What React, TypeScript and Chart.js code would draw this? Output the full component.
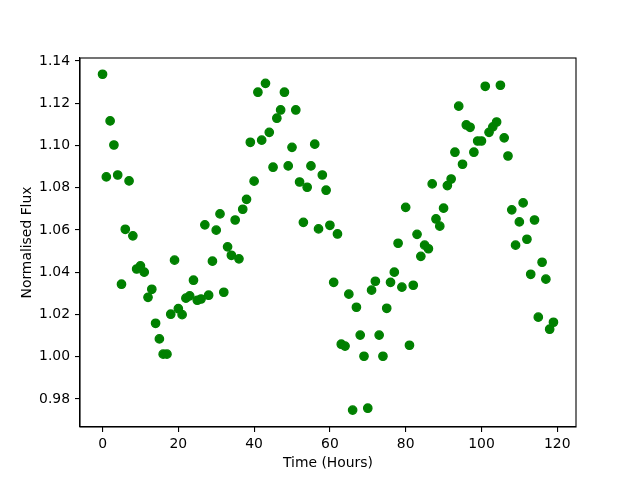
import React, { useEffect, useRef } from "react";
import { Chart, registerables } from "chart.js";

Chart.register(...registerables);

const hours: number[] = Array.from({ length: 120 }, (_, i) => i);

const flux: number[] = [
  1.1337, 1.0851, 1.1116, 1.1002, 1.086, 1.0343, 1.0603, 1.0832, 1.0572, 1.0415,
  1.043, 1.04, 1.0281, 1.0319, 1.0158, 1.0084, 1.0012, 1.0012, 1.0201, 1.0457,
  1.0227, 1.0199, 1.0277, 1.0288, 1.0362, 1.0267, 1.0273, 1.0624, 1.0291, 1.0452,
  1.0599, 1.0676, 1.0305, 1.052, 1.048, 1.0647, 1.0463, 1.0698, 1.0745, 1.1015,
  1.0831, 1.1252, 1.1025, 1.1294, 1.1062, 1.0897, 1.1129, 1.1168, 1.1252, 1.0903,
  1.0991, 1.1168, 1.0827, 1.0636, 1.0802, 1.0903, 1.1006, 1.0605, 1.086, 1.0788,
  1.0622, 1.0352, 1.0581, 1.0059, 1.005, 1.0296, 0.9747, 1.0234, 1.0102, 1.0002,
  0.9756, 1.0315, 1.0357, 1.0102, 1.0002, 1.0229, 1.0352, 1.04, 1.0537, 1.0329,
  1.0707, 1.0054, 1.0338, 1.0579, 1.0475, 1.0528, 1.0511, 1.0818, 1.0652, 1.0618,
  1.0703, 1.081, 1.0841, 1.0968, 1.1186, 1.0911, 1.1097, 1.1086, 1.0968, 1.1021,
  1.1021, 1.128, 1.1062, 1.1088, 1.1111, 1.1285, 1.1036, 1.095, 1.0695, 1.0528,
  1.0638, 1.0728, 1.0556, 1.039, 1.0647, 1.0187, 1.0447, 1.0367, 1.013, 1.0163,
];

const xTicks: number[] = [0, 20, 40, 60, 80, 100, 120];
const yTicks: number[] = [0.98, 1.0, 1.02, 1.04, 1.06, 1.08, 1.1, 1.12, 1.14];

const FONT = { family: "'DejaVu Sans', sans-serif", size: 13.9 };

const framePlugin = {
  id: "frame",
  afterDraw(chart: any) {
    const { ctx, chartArea } = chart;
    ctx.save();
    ctx.strokeStyle = "#000";
    ctx.lineWidth = 1.1;
    ctx.strokeRect(chartArea.left, chartArea.top, chartArea.right - chartArea.left, chartArea.bottom - chartArea.top);
    ctx.restore();
  },
};

export default function App() {
  const ref = useRef<HTMLCanvasElement | null>(null);
  useEffect(() => {
    if (!ref.current) return;
    const chart = new Chart(ref.current, {
      type: "scatter",
      data: {
        datasets: [
          {
            data: hours.map((h, i) => ({ x: h, y: flux[i] })),
            backgroundColor: "#008000",
            borderColor: "#008000",
            pointRadius: 4.2,
            borderWidth: 1.3,
          },
        ],
      },
      options: {
        responsive: false,
        animation: false,
        events: [],
        layout: { padding: { left: 0, right: 64, top: 58, bottom: 0 } },
        plugins: { legend: { display: false }, tooltip: { enabled: false } },
        scales: {
          x: {
            type: "linear",
            min: -5.95,
            max: 124.95,
            afterBuildTicks: (s: any) => {
              s.ticks = xTicks.map((v) => ({ value: v }));
            },
            afterFit: (s: any) => {
              s.height = 53;
            },
            grid: { drawOnChartArea: false, drawTicks: true, tickLength: 5, color: "#000", lineWidth: 1.1 },
            border: { display: true, color: "#000", width: 1.1 },
            ticks: { color: "#000", font: FONT, padding: 4, maxRotation: 0, autoSkip: false, callback: (v: any) => String(v) },
            title: { display: true, text: "Time (Hours)", color: "#000", font: FONT, padding: { top: 0, bottom: 8.6 } },
          },
          y: {
            type: "linear",
            min: 0.9667,
            max: 1.1414,
            afterBuildTicks: (s: any) => {
              s.ticks = yTicks.map((v) => ({ value: v }));
            },
            afterFit: (s: any) => {
              s.width = 80;
            },
            grid: { drawOnChartArea: false, drawTicks: true, tickLength: 5, color: "#000", lineWidth: 1.1 },
            border: { display: true, color: "#000", width: 1.1 },
            ticks: { color: "#000", font: FONT, padding: 5, autoSkip: false, callback: (v: any) => Number(v).toFixed(2) },
            title: { display: true, text: "Normalised Flux", color: "#000", font: FONT, padding: { top: 18.6, bottom: 0 } },
          },
        },
      },
      plugins: [framePlugin],
    });
    return () => chart.destroy();
  }, []);
  return (
    <div style={{ position: "fixed", left: 0, top: 0, width: 640, height: 480, background: "#fff" }}>
      <canvas ref={ref} width={640} height={480} style={{ width: 640, height: 480 }} />
    </div>
  );
}
